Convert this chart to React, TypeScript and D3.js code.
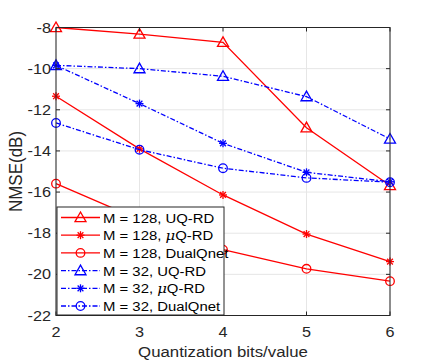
import React from "react";
import * as d3 from "d3";

const bits = [2, 3, 4, 5, 6];
const m128UQ = [-8.0, -8.32, -8.72, -12.87, -15.68];
const m128Mu = [-11.34, -13.9, -16.14, -18.04, -19.38];
const m128Dual = [-15.59, -17.34, -18.8, -19.73, -20.33];
const m32UQ = [-9.84, -10.0, -10.37, -11.36, -13.42];
const m32Mu = [-9.84, -11.7, -13.63, -15.04, -15.5];
const m32Dual = [-12.64, -13.94, -14.84, -15.31, -15.52];
const xTicks = [2, 3, 4, 5, 6];
const yTicks = [-22, -20, -18, -16, -14, -12, -10, -8];

const W = 432, H = 362;
const L = 56, R = 390, T = 27.5, B = 315.5;
const FONT = "'Liberation Sans', Arial, Helvetica, sans-serif";
const AX = "#262626";
const SX = 1.12;

type Series = { name: string; pre: string; mu: boolean; post: string; values: number[]; color: string; marker: string; dash?: string };

const series: Series[] = [
  { name: "a", pre: "M = 128, ", mu: false, post: "UQ-RD", values: m128UQ, color: "#ff0000", marker: "tri" },
  { name: "b", pre: "M = 128, ", mu: true, post: "Q-RD", values: m128Mu, color: "#ff0000", marker: "star" },
  { name: "c", pre: "M = 128, ", mu: false, post: "DualQnet", values: m128Dual, color: "#ff0000", marker: "circ" },
  { name: "d", pre: "M = 32, ", mu: false, post: "UQ-RD", values: m32UQ, color: "#0000ff", marker: "tri", dash: "5,2,1.5,2" },
  { name: "e", pre: "M = 32, ", mu: true, post: "Q-RD", values: m32Mu, color: "#0000ff", marker: "star", dash: "5,2,1.5,2" },
  { name: "f", pre: "M = 32, ", mu: false, post: "DualQnet", values: m32Dual, color: "#0000ff", marker: "circ", dash: "5,2,1.5,2" },
];

function Marker({ type, x, y, color }: { type: string; x: number; y: number; color: string }) {
  if (type === "tri") {
    const s = 5.5;
    const pts = `${x},${y - s} ${x - s},${y + s * 0.75} ${x + s},${y + s * 0.75}`;
    return <polygon points={pts} fill="none" stroke={color} strokeWidth={1.3} />;
  }
  if (type === "circ") {
    return <circle cx={x} cy={y} r={4.3} fill="none" stroke={color} strokeWidth={1.3} />;
  }
  const s = 4;
  const d = s * 0.72;
  return (
    <g stroke={color} strokeWidth={1.3}>
      <line x1={x - s} y1={y} x2={x + s} y2={y} />
      <line x1={x} y1={y - s} x2={x} y2={y + s} />
      <line x1={x - d} y1={y - d} x2={x + d} y2={y + d} />
      <line x1={x - d} y1={y + d} x2={x + d} y2={y - d} />
    </g>
  );
}

function Txt({ x, y, size, anchor, fill, children }: { x: number; y: number; size: number; anchor?: string; fill?: string; children: React.ReactNode }) {
  return (
    <text transform={`translate(${x},${y}) scale(${SX},1)`} fontSize={size} textAnchor={anchor || "start"} fill={fill || AX}>
      {children}
    </text>
  );
}

export default function App() {
  const x = d3.scaleLinear().domain([2, 6]).range([L, R]);
  const y = d3.scaleLinear().domain([-22, -8]).range([B, T]);
  const line = d3.line<number>().x((_, i) => x(bits[i])).y((v) => y(v));

  const lg = { x: 57, y: 207, w: 167, h: 108 };
  const rowH = 17.7;

  return (
    <svg width={W} height={H} style={{ position: "absolute", left: 0, top: 0, background: "#fff" }} fontFamily={FONT}>
      <rect x={0} y={0} width={W} height={H} fill="#fff" />
      {/* grid */}
      <g stroke="#e6e6e6" strokeWidth={1}>
        {xTicks.map((t) => (
          <line key={"gx" + t} x1={x(t)} x2={x(t)} y1={T} y2={B} />
        ))}
        {yTicks.map((t) => (
          <line key={"gy" + t} x1={L} x2={R} y1={y(t)} y2={y(t)} />
        ))}
      </g>
      {/* series */}
      {series.map((s) => (
        <g key={s.name}>
          <path d={line(s.values) || ""} fill="none" stroke={s.color} strokeWidth={1.3} strokeDasharray={s.dash} />
          {s.values.map((v, i) => (
            <Marker key={i} type={s.marker} x={x(bits[i])} y={y(v)} color={s.color} />
          ))}
        </g>
      ))}
      {/* axes box */}
      <rect x={L} y={T} width={R - L} height={B - T} fill="none" stroke={AX} strokeWidth={1} />
      <g stroke={AX} strokeWidth={1}>
        {xTicks.map((t) => (
          <g key={"tx" + t}>
            <line x1={x(t)} x2={x(t)} y1={B} y2={B - 4} />
            <line x1={x(t)} x2={x(t)} y1={T} y2={T + 4} />
          </g>
        ))}
        {yTicks.map((t) => (
          <g key={"ty" + t}>
            <line x1={L} x2={L + 4} y1={y(t)} y2={y(t)} />
            <line x1={R} x2={R - 4} y1={y(t)} y2={y(t)} />
          </g>
        ))}
      </g>
      {/* tick labels */}
      {xTicks.map((t) => (
        <Txt key={"lx" + t} x={x(t)} y={B + 21.5} size={14.5} anchor="middle">{t}</Txt>
      ))}
      {yTicks.map((t) => (
        <Txt key={"ly" + t} x={L - 5} y={y(t) + 5} size={14.5} anchor="end">{t}</Txt>
      ))}
      <Txt x={(L + R) / 2} y={357} size={15} anchor="middle">Quantization bits/value</Txt>
      <text transform={`translate(21.5,${(T + B) / 2}) rotate(-90) scale(1,${SX})`} textAnchor="middle" fontSize={17} fill={AX}>NMSE(dB)</text>
      {/* legend */}
      <rect x={lg.x} y={lg.y} width={lg.w} height={lg.h} fill="#fff" stroke={AX} strokeWidth={1} />
      {series.map((s, i) => {
        const cy = lg.y + 10.5 + i * rowH;
        return (
          <g key={"lg" + s.name}>
            <line x1={lg.x + 4} x2={lg.x + 43} y1={cy} y2={cy} stroke={s.color} strokeWidth={1.3} strokeDasharray={s.dash} />
            <Marker type={s.marker} x={lg.x + 23.5} y={cy} color={s.color} />
            <Txt x={lg.x + 46} y={cy + 5} size={13.3} fill="#000">
              {s.pre}
              {s.mu ? <tspan fontStyle="italic" fontFamily="'DejaVu Serif', serif">μ</tspan> : null}
              {s.post}
            </Txt>
          </g>
        );
      })}
    </svg>
  );
}
